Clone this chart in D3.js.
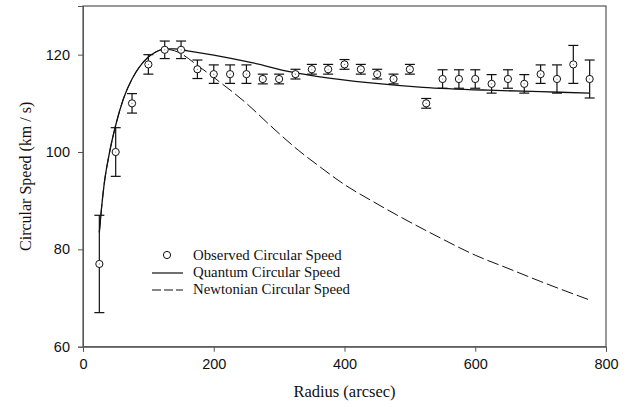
<!DOCTYPE html>
<html lang="en">
<head>
<meta charset="UTF-8">
<title>Circular Speed</title>
<script src="https://d3js.org/d3.v7.min.js"></script>
<style>
  body { margin: 0; background: #fff; }
  .tick text { font-family: "Liberation Sans", Arial, sans-serif; font-size: 14.5px; fill: #111; }
</style>
</head>
<body>
<script>
    // observed speeds (km/s) and their error bars
    var radius = [25, 50, 75, 100, 125, 150, 175, 200, 225, 250, 275, 300, 325, 350, 375, 400,
                  425, 450, 475, 500, 525, 550, 575, 600, 625, 650, 675, 700, 725, 750, 775];
    var observed = [77, 100, 110, 118, 121, 121, 117, 116, 116, 116, 115, 115, 116, 117, 117, 118,
                    117, 116, 115, 117, 110, 115, 115, 115, 114, 115, 114, 116, 115, 118, 115];
    var observed_err = [10, 5, 2, 2, 1.8, 1.8, 1.9, 1.9, 1.9, 1.9, 1, 1, 1, 1, 1, 1,
                        1, 1, 1, 1, 1, 1.9, 1.9, 1.9, 1.9, 1.9, 1.9, 1.9, 2.9, 3.9, 3.9];

    // model curves
    var quantum_r = [25, 28, 32, 40, 50, 62, 75, 87, 100, 112, 125, 140, 160, 200, 260, 320, 360, 440, 520, 620, 700, 775];
    var quantum_v = [83.5, 88, 93, 99.5, 105.5, 111, 115, 117.6, 119.5, 120.6, 121.2, 121.2, 120.8, 119.9, 118.3, 116.4, 115.5, 114.2, 113.3, 112.7, 112.4, 112.1];

    var newton_r = [25, 28, 32, 40, 50, 62, 75, 87, 100, 112, 125, 140, 150, 175, 210, 250, 286, 330, 363, 400, 440, 485, 540, 600, 650, 700, 775];
    var newton_v = [83.5, 88, 93, 99.5, 105.5, 111, 115, 117.6, 119.5, 120.6, 121.1, 120.8, 120.2, 117.8, 114.3, 110, 105.5, 100.3, 96.9, 93.3, 90.1, 86.7, 82.8, 78.8, 76.1, 73.4, 69.6];

    var x_ticks = [0, 200, 400, 600, 800];
    var y_ticks = [60, 80, 100, 120];

    var serif = '"Liberation Serif", "Times New Roman", Times, serif';
    var width = 630, height = 407;
    var plot_left = 83, plot_top = 6, plot_right = 606, plot_bottom = 346.7;

    var svg = d3.select('body').append('svg')
        .attr('width', width)
        .attr('height', height);

    var x = d3.scaleLinear().domain([0, 800]).range([plot_left, plot_right]);
    var y = d3.scaleLinear().domain([60, 130]).range([plot_bottom, plot_top]);

    // frame
    svg.append('rect')
        .attr('x', plot_left).attr('y', plot_top)
        .attr('width', plot_right - plot_left).attr('height', plot_bottom - plot_top)
        .attr('fill', 'none').attr('stroke', '#555').attr('stroke-width', 1.2);

    svg.append('g')
        .attr('transform', 'translate(0,' + plot_bottom + ')')
        .call(d3.axisBottom(x).tickValues(x_ticks).tickSize(5).tickPadding(7))
        .call(function (g) { g.select('.domain').attr('stroke', '#555'); g.selectAll('line').attr('stroke', '#555'); });

    svg.append('g')
        .attr('transform', 'translate(' + plot_left + ',0)')
        .call(d3.axisLeft(y).tickValues(y_ticks).tickSize(5).tickPadding(8))
        .call(function (g) { g.select('.domain').attr('stroke', '#555'); g.selectAll('line').attr('stroke', '#555'); });

    svg.append('text')
        .attr('x', (plot_left + plot_right) / 2).attr('y', 397)
        .attr('text-anchor', 'middle')
        .style('font-family', serif).style('font-size', '16.5px').style('fill', '#111')
        .text('Radius (arcsec)');

    svg.append('text')
        .attr('transform', 'translate(31,' + (plot_top + plot_bottom) / 2 + ') rotate(-90)')
        .attr('text-anchor', 'middle')
        .style('font-family', serif).style('font-size', '16px').style('fill', '#111')
        .text('Circular Speed (km / s)');

    var line = d3.line()
        .x(function (d) { return x(d[0]); })
        .y(function (d) { return y(d[1]); })
        .curve(d3.curveMonotoneX);

    svg.append('path')
        .datum(d3.zip(newton_r, newton_v))
        .attr('d', line)
        .attr('fill', 'none').attr('stroke', '#111').attr('stroke-width', 1)
        .attr('stroke-dasharray', '12,4');

    svg.append('path')
        .datum(d3.zip(quantum_r, quantum_v))
        .attr('d', line)
        .attr('fill', 'none').attr('stroke', '#111').attr('stroke-width', 1.3);

    // error bars
    var obs = radius.map(function (r, i) { return { r: r, v: observed[i], e: observed_err[i] }; });
    var bars = svg.append('g').attr('stroke', '#111').attr('stroke-width', 1.2);
    obs.forEach(function (d) {
        var cx = x(d.r);
        bars.append('line').attr('x1', cx).attr('x2', cx).attr('y1', y(d.v - d.e)).attr('y2', y(d.v + d.e));
        bars.append('line').attr('x1', cx - 5).attr('x2', cx + 5).attr('y1', y(d.v + d.e)).attr('y2', y(d.v + d.e));
        bars.append('line').attr('x1', cx - 5).attr('x2', cx + 5).attr('y1', y(d.v - d.e)).attr('y2', y(d.v - d.e));
    });

    svg.append('g').selectAll('circle')
        .data(obs)
        .enter()
        .append('circle')
        .attr('cx', function (d) { return x(d.r); })
        .attr('cy', function (d) { return y(d.v); })
        .attr('r', 3.6)
        .attr('fill', '#fff').attr('stroke', '#111').attr('stroke-width', 1);

    svg.append('g').selectAll('circle')
        .data(obs)
        .enter()
        .append('circle')
        .attr('cx', function (d) { return x(d.r); })
        .attr('cy', function (d) { return y(d.v); })
        .attr('r', 0.6)
        .attr('fill', '#777');

    // legend
    var legend = svg.append('g');
    legend.append('circle').attr('cx', 167).attr('cy', 255).attr('r', 3.6)
        .attr('fill', '#fff').attr('stroke', '#111');
    legend.append('line').attr('x1', 152).attr('x2', 183).attr('y1', 273).attr('y2', 273)
        .attr('stroke', '#111').attr('stroke-width', 1.2);
    legend.append('line').attr('x1', 152).attr('x2', 183).attr('y1', 290).attr('y2', 290)
        .attr('stroke', '#111').attr('stroke-width', 1).attr('stroke-dasharray', '9,3');
    var labels = ['Observed Circular Speed', 'Quantum Circular Speed', 'Newtonian Circular Speed'];
    labels.forEach(function (t, i) {
        legend.append('text').attr('x', 193).attr('y', 260 + i * 17)
            .style('font-family', serif).style('font-size', '14.8px').style('fill', '#111')
            .text(t);
    });
</script>
</body>
</html>
